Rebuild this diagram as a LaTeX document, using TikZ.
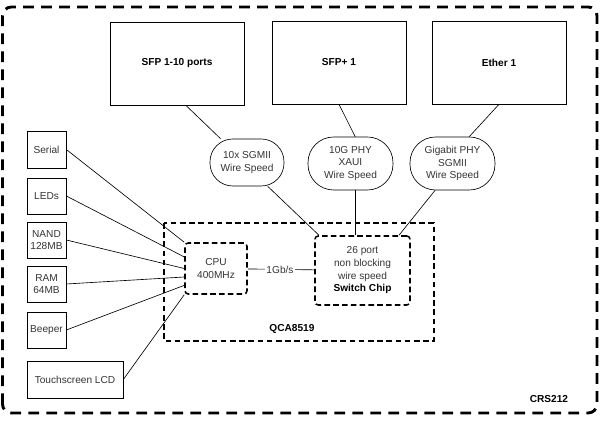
\documentclass[tikz,border=0pt]{standalone}
\usepackage{fontspec}
\setmainfont{Liberation Sans}
\usepackage{tikz}
\usetikzlibrary{calc}

\begin{document}
\begin{tikzpicture}[
    every node/.style={text=black!80},
    portbox/.style={draw, line width=0.016cm, minimum width=3.350000cm, minimum height=2.075000cm, inner sep=0pt, font=\bfseries, text=black},
    phybox/.style={draw, line width=0.016cm, rounded corners=0.640000cm, align=center, inner sep=0pt, minimum width=2.125000cm, minimum height=1.325000cm},
    periph/.style={draw, line width=0.016cm, align=center, inner sep=0pt, minimum width=0.975000cm, minimum height=0.900000cm},
    chipbox/.style={draw, line width=0.038cm, dash pattern=on 0.140000cm off 0.080000cm, rounded corners=0.080000cm, align=center, inner sep=0pt},
    wire/.style={line width=0.016cm}
  ]
                        \useasboundingbox (0.000000,0.000000) rectangle (15.000000,10.575000);
                        {\fontsize{7.2}{9}\selectfont

                        % Drawing board outline CRS212
                        \draw [line width=0.072cm, dash pattern=on 0.270000cm off 0.180000cm, rounded corners=0.220000cm] (0.062500,0.250000) rectangle (14.925000,10.400000);%
                        \node [font=\bfseries, text=black] (crs) at (13.725000,0.600000) {CRS212};%

                        % Drawing ports
                        \node [portbox] (sfp) at (4.425000,8.987500) {SFP 1-10 ports};%
                        \node [portbox] (sfpp) at (8.475000,9.012500) {SFP+ 1};%
                        \node [portbox] (ether) at (12.475000,9.012500) {Ether 1};%

                        % Drawing PHY links
                        \node [phybox, rounded corners=0.570000cm, minimum width=1.850000cm, minimum height=1.175000cm] (sgmii) at (6.175000,6.512500) {10x SGMII\\Wire Speed};%
                        \node [phybox] (xaui) at (8.762500,6.487500) {10G PHY\\XAUI\\Wire Speed};%
                        \node [phybox] (gbphy) at (11.312500,6.487500) {Gigabit PHY\\SGMII\\Wire Speed};%

                        % Drawing peripherals
                        \node [periph, minimum height=0.925000cm] (serial) at (1.162500,6.837500) {Serial};%
                        \node [periph] (leds) at (1.162500,5.675000) {LEDs};%
                        \node [periph] (nand) at (1.162500,4.575000) {NAND\\128MB};%
                        \node [periph] (ram) at (1.162500,3.475000) {RAM\\64MB};%
                        \node [periph] (beeper) at (1.162500,2.325000) {Beeper};%
                        \node [periph, minimum width=2.400000cm, minimum height=0.925000cm] (lcd) at (1.875000,1.087500) {Touchscreen LCD};%

                        % Drawing chip QCA8519
                        \draw [line width=0.034cm, dash pattern=on 0.140000cm off 0.090000cm] (4.100000,5.000000) rectangle (10.850000,2.050000);%
                        \node [font=\bfseries, text=black] (qca) at (7.300000,2.350000) {QCA8519};%
                        \node [chipbox, minimum width=1.550000cm, minimum height=1.275000cm] (cpu) at (5.400000,3.862500) {CPU\\400MHz};%
                        \node [chipbox, minimum width=2.375000cm, minimum height=1.725000cm] (swchip) at (9.062500,3.812500) {26 port\\non blocking\\wire speed\\\textbf{\color{black}Switch Chip}};%
                        \node [inner sep=1pt] (gbps) at (7.000000,3.840000) {1Gb/s};%

                        % Drawing CPU bus
                        \draw [wire] (cpu) -- (gbps) -- (swchip);%

                        % Drawing peripheral lines
                        \draw [wire] (serial.east) -- (cpu.north west);%
                        \draw [wire] (leds.east) -- (cpu.160);%
                        \draw [wire] (nand.east) -- (cpu.west);%
                        \draw [wire] (ram.east) -- (cpu.195);%
                        \draw [wire] (beeper.east) -- (cpu.208);%
                        \draw [wire] (lcd.east) -- (cpu.south west);%

                        % Drawing port lines
                        \draw [wire] ($(sfp.south)+(0.220000,0)$) -- (sgmii.138);%
                        \draw [wire] (sgmii.311) -- (swchip.141);%
                        \draw [wire] (sfpp.south) -- (xaui.80);%
                        \draw [wire] (xaui.280) -- (xaui.280 |- swchip.north);%
                        \draw [wire] (ether.south) -- (gbphy.58);%
                        \draw [wire] (gbphy.237) -- (swchip.44);%
                        }
                    \end{tikzpicture}
\end{document}
